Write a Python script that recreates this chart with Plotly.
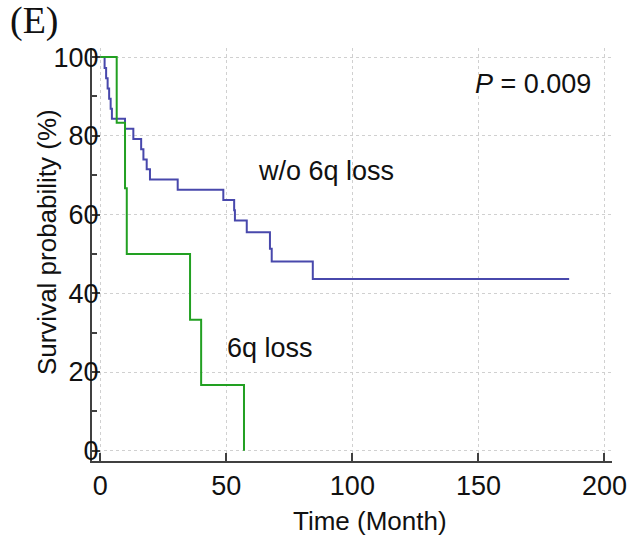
import plotly.graph_objects as go

# Kaplan-Meier step data
time_wo6q = [0, 1.7, 2.3, 2.9, 3.5, 4.1, 4.6, 9.8, 13.1, 16.2, 17.1, 18.4, 19.7,
             30.7, 48.8, 53.1, 53.4, 58.1, 67.3, 68.0, 84.3, 186]
surv_wo6q = [100, 97.2, 94.6, 92.0, 89.4, 86.9, 84.3, 81.8, 79.2, 76.6, 74.0, 71.5, 68.9,
             66.3, 63.7, 61.1, 58.5, 55.5, 51.3, 48.1, 43.6, 43.6]

time_6q = [0, 6.5, 9.8, 10.5, 35.6, 40.0, 57.0]
surv_6q = [100, 83.3, 66.7, 50.0, 33.3, 16.7, 0]

x_ticks = [0, 50, 100, 150, 200]
y_ticks = [0, 20, 40, 60, 80, 100]

FONT = "Liberation Sans, Arial, sans-serif"

fig = go.Figure()
fig.add_trace(go.Scatter(x=time_wo6q, y=surv_wo6q, mode="lines", line_shape="hv",
                         line=dict(color="#4848ac", width=2), name="w/o 6q loss",
                         showlegend=False))
fig.add_trace(go.Scatter(x=time_6q, y=surv_6q, mode="lines", line_shape="hv",
                         line=dict(color="#22a022", width=2), name="6q loss",
                         showlegend=False))

axis_common = dict(
    showline=True, linecolor="#404040", linewidth=2,
    ticks="inside", ticklen=8, tickwidth=1.5, tickcolor="#404040",
    showgrid=True, gridcolor="#d0d0d0", griddash="dot", gridwidth=1,
    zeroline=False, tickfont=dict(family=FONT, size=27, color="#111111"),
)

fig.update_xaxes(range=[-3.3, 203], tickvals=x_ticks, **axis_common)
fig.update_yaxes(range=[-2.6, 102.3], tickvals=y_ticks,
                 minor=dict(ticks="inside", ticklen=5, tickcolor="#404040",
                            dtick=10, tick0=0, showgrid=False),
                 ticklabelstandoff=-14, **axis_common)

annos = [
    dict(text="<i>P</i> = 0.009", x=171.7, y=93.1, xref="x", yref="y",
         showarrow=False, font=dict(family=FONT, size=27, color="#111111")),
    dict(text="w/o 6q loss", x=89.6, y=71.0, xref="x", yref="y",
         showarrow=False, font=dict(family=FONT, size=27, color="#111111")),
    dict(text="6q loss", x=67.3, y=26.1, xref="x", yref="y",
         showarrow=False, font=dict(family=FONT, size=27, color="#111111")),
    dict(text="Time (Month)", x=0.535, y=0, xref="paper", yref="paper",
         yanchor="middle", yshift=-60, showarrow=False,
         font=dict(family=FONT, size=26, color="#111111")),
    dict(text="Survival probability (%)", x=0, y=0.53, xref="paper", yref="paper",
         xanchor="center", yanchor="middle", xshift=-45, textangle=-90,
         showarrow=False, font=dict(family=FONT, size=26, color="#111111")),
    dict(text="(E)", x=-0.003, y=1.0, xref="paper", yref="paper",
         xanchor="center", yanchor="middle", xshift=-56, yshift=28,
         showarrow=False,
         font=dict(family="Liberation Serif, Times New Roman, serif", size=38,
                   color="#111111")),
]

fig.update_layout(
    width=643, height=537,
    margin=dict(l=92, r=31, t=48, b=76),
    paper_bgcolor="white", plot_bgcolor="white",
    annotations=annos, showlegend=False,
)

fig.write_html("out.html")
